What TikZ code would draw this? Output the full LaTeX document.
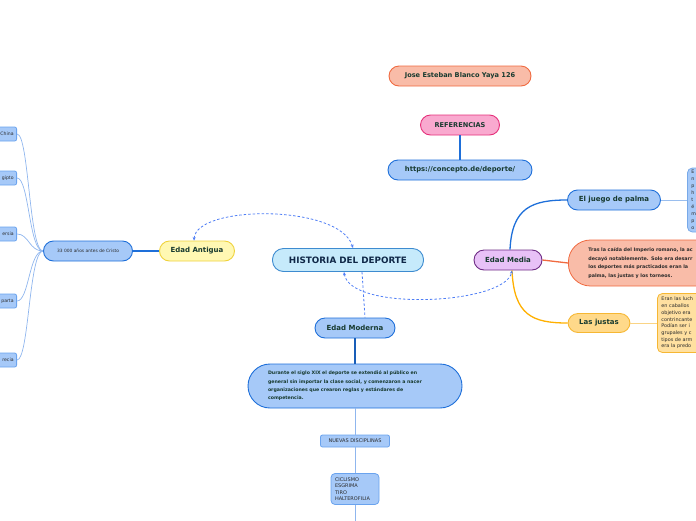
\documentclass[tikz,border=0pt]{standalone}
\usepackage{fontspec}
\setmainfont{DejaVu Sans}
\usetikzlibrary{arrows.meta}

\definecolor{txtgreen}{HTML}{173A2F}
\definecolor{txtnavy}{HTML}{0F2747}
\definecolor{txtdark}{HTML}{2B2B2B}
\definecolor{bluefill}{HTML}{A6C9F8}
\definecolor{blueline}{HTML}{1E6FD9}
\definecolor{leafline}{HTML}{6AA3EE}
\definecolor{thinline}{HTML}{8FB6EE}
\definecolor{salmonfill}{HTML}{F9BCA8}
\definecolor{salmonline}{HTML}{F06A40}
\definecolor{pinkfill}{HTML}{F9A9CF}
\definecolor{pinkline}{HTML}{E5307A}
\definecolor{cyanfill}{HTML}{C6EAFB}
\definecolor{cyanline}{HTML}{3D8BD0}
\definecolor{yellowfill}{HTML}{FFF8B3}
\definecolor{yellowline}{HTML}{EFD23C}
\definecolor{lilacfill}{HTML}{E8C1F7}
\definecolor{lilacline}{HTML}{6E2C84}
\definecolor{orangefill}{HTML}{FFD98A}
\definecolor{orangeline}{HTML}{F6B733}
\definecolor{orangebox}{HTML}{FFE0A0}
\definecolor{goldline}{HTML}{FFB000}
\definecolor{linkblue}{HTML}{4F7EF5}

\begin{document}
\begin{tikzpicture}[x=1pt,y=-1pt,
    pill/.style={draw, line width=0.9pt, rounded corners=10pt, minimum height=20pt,
        inner sep=0pt, text=txtgreen, font=\fontsize{7}{8}\selectfont\bfseries},
    bluepill/.style={pill, fill=bluefill, draw=blueline},
    leafbox/.style={draw=leafline, fill=bluefill, line width=0.8pt, rounded corners=2pt,
        inner sep=0pt, text=txtdark, font=\fontsize{5}{6.5}\selectfont},
    textbox/.style={line width=0.8pt, rounded corners=5pt, anchor=west, align=left,
        inner xsep=4pt, inner ysep=0pt, text=txtdark},
    link/.style={draw=linkblue, dashed, line width=0.8pt, dash pattern=on 2.5pt off 2pt,
        {Stealth[length=3.5pt,width=3pt]}-{Stealth[length=3.5pt,width=3pt]}},
    branch/.style={line width=1.3pt},
    twig/.style={draw=thinline, line width=0.7pt}
]

    \useasboundingbox (0,0) rectangle (696,520);
    \clip (0,0) rectangle (696,520);

    % top
    \node[pill, fill=salmonfill, draw=salmonline, minimum width=142pt,
        font=\fontsize{6.6}{8}\selectfont\bfseries] (autor) at (460,76) {Jose Esteban Blanco Yaya 126};
    \node[pill, fill=pinkfill, draw=pinkline, minimum width=79pt,
        font=\fontsize{6.6}{8}\selectfont\bfseries] (ref) at (460,125) {REFERENCIAS};
    \node[bluepill, minimum width=144pt,
        font=\fontsize{6.8}{8}\selectfont\bfseries] (url) at (460,170) {https://concepto.de/deporte/};
    \draw[branch, blueline] (ref.south) -- (url.north);

    % centre
    \node[pill, fill=cyanfill, draw=cyanline, minimum width=151pt, minimum height=23pt,
        rounded corners=11pt, text=txtnavy,
        font=\fontsize{8.8}{10}\selectfont\bfseries] (historia) at (348,260) {HISTORIA DEL DEPORTE};

    % Edad Antigua
    \node[pill, fill=yellowfill, draw=yellowline, minimum width=75pt] (antigua) at (197,251) {Edad Antigua};
    \node[bluepill, minimum width=89pt, text=txtdark,
        font=\fontsize{4.4}{5}\selectfont] (cristo) at (88,251) {33 000 años antes de Cristo};
    \draw[branch, blueline] (antigua.west) -- (cristo.east);

    \node[leafbox, anchor=east, text width=34pt, align=right, inner xsep=3pt, minimum height=14pt,
        font=\fontsize{4.6}{6}\selectfont] (china) at (17,134) {China};
    \node[leafbox, anchor=east, text width=34pt, align=right, inner xsep=3pt, minimum height=14pt,
        font=\fontsize{4.6}{6}\selectfont] (egipto) at (17,178) {gipto};
    \node[leafbox, anchor=east, text width=34pt, align=right, inner xsep=3pt, minimum height=14pt,
        font=\fontsize{4.6}{6}\selectfont] (persia) at (17,234) {ersia};
    \node[leafbox, anchor=east, text width=34pt, align=right, inner xsep=3pt, minimum height=14pt,
        font=\fontsize{4.6}{6}\selectfont] (esparta) at (17,301) {parta};
    \node[leafbox, anchor=east, text width=34pt, align=right, inner xsep=3pt, minimum height=14pt,
        font=\fontsize{4.6}{6}\selectfont] (grecia) at (17,360) {recia};

    \foreach \leaf in {china,egipto,persia,esparta,grecia}
        \draw[twig] (\leaf.east) .. controls +(12,0) and +(-14,0) .. (cristo.west);

    % Edad Media
    \node[pill, fill=lilacfill, draw=lilacline, minimum width=68pt] (media) at (508,260) {Edad Media};
    \node[bluepill, minimum width=93pt] (palma) at (614,200) {El juego de palma};
    \node[pill, fill=orangefill, draw=orangeline, minimum width=62pt, minimum height=19pt] (justas) at (599,323) {Las justas};

    \node[textbox, draw=blueline!60, fill=bluefill, text width=40pt, minimum height=64pt,
        font=\fontsize{4.8}{7}\selectfont] (palmatexto) at (687,200) {E\\n\\p\\h\\t\\é\\m\\p\\o};
    \node[textbox, draw=salmonline, fill=salmonfill, rounded corners=22pt, inner xsep=20pt,
        text width=200pt, minimum height=46pt, text=txtdark,
        font=\fontsize{4.8}{8.5}\selectfont\bfseries] (tras) at (568,263)
        {Tras la caída del Imperio romano, la ac\\decayó notablemente. Solo era desarr\\los deportes más practicados eran la\\palma, las justas y los torneos.};
    \node[textbox, draw=orangeline, fill=orangebox, text width=60pt, minimum height=59pt,
        font=\fontsize{4.9}{6.7}\selectfont] (justastexto) at (657,323)
        {Eran las luch\\en caballos\\objetivo era\\contrincante\\Podían ser i\\grupales y c\\tipos de arm\\era la predo};

    \draw[branch, blueline] ([xshift=2pt]media.north) .. controls +(2,-42) and +(-35,0) .. (palma.west);
    \draw[branch, salmonline] (media.east) -- (tras.west);
    \draw[branch, goldline] ([xshift=4pt]media.south) .. controls +(2,45) and +(-35,0) .. (justas.west);
    \draw[twig, draw=blueline!45] (palma.east) -- (palmatexto.west);
    \draw[twig, draw=orangeline!60] (justas.east) -- (justastexto.west);

    % Edad Moderna
    \node[bluepill, minimum width=80pt] (moderna) at (355,328) {Edad Moderna};
    \node[draw=blueline, fill=bluefill, line width=0.9pt, rounded corners=22pt,
        minimum width=214pt, minimum height=44pt, text width=174pt, align=left,
        inner sep=0pt, text=txtgreen,
        font=\fontsize{4.7}{8.3}\selectfont\bfseries] (durante) at (355,386)
        {Durante el siglo XIX el deporte se extendió al público en\\general sin importar la clase social, y comenzaron a nacer\\organizaciones que crearon reglas y estándares de\\competencia.};
    \node[leafbox, minimum width=69pt, minimum height=12pt] (nuevas) at (355,441) {NUEVAS DISCIPLINAS};
    \node[leafbox, rounded corners=4pt, minimum width=48pt, minimum height=31pt,
        text width=40pt, align=left] (ciclismo) at (355,489) {CICLISMO\\ESGRIMA\\TIRO\\HALTEROFILIA};
    \coordinate (abajo) at (355,530);

    \draw[branch, blueline!85!black] (moderna.south) -- (durante.north);
    \draw[twig] (durante.south) -- (nuevas.north);
    \draw[twig] (nuevas.south) -- (ciclismo.north);
    \draw[twig] (ciclismo.south) -- (abajo);

    % relaciones
    \draw[link] ([xshift=-3pt]antigua.north) .. controls +(2,-36) and +(-13,-44) .. ([xshift=5pt]historia.north);
    \draw[link] ([xshift=-4pt]historia.south) .. controls +(6,40) and +(-7,34) .. ([xshift=4pt]media.south);
    \draw[link, -] ([xshift=14pt]historia.south) -- ([xshift=10pt]moderna.north);

\end{tikzpicture}
\end{document}
